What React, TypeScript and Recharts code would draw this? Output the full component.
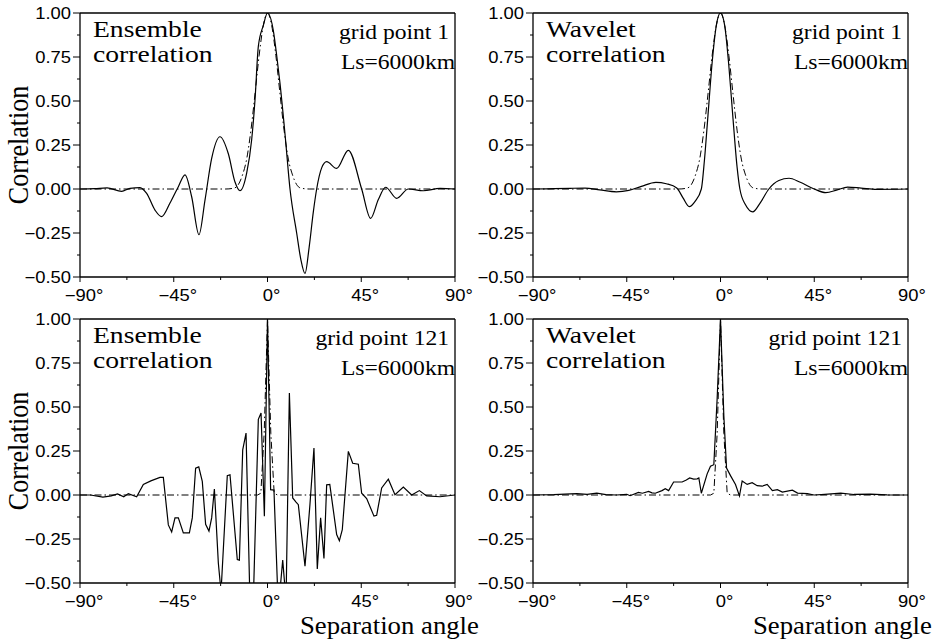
import React from "react";
import { LineChart, Line, XAxis, YAxis, ReferenceLine } from "recharts";

const xTicks = [-90, -67.5, -45, -22.5, 0, 22.5, 45, 67.5, 90];
const yTicks = [-0.5, -0.375, -0.25, -0.125, 0, 0.125, 0.25, 0.375, 0.5, 0.625, 0.75, 0.875, 1];

// grid point 1, ensemble correlation
const ensAngles1 = [
  -90, -83, -77, -70, -66, -61.2, -58, -54, -50.8, -46.8, -42.8, -39.6, -36.4, -32.9, -30, -26.8, -22.8,
  -18.8, -15.6, -13.2, -10, -7.6, -6, -4.4, -2, 0, 2.8, 4.5, 6, 8.5, 10.8, 14, 16, 18, 20, 22, 23.6, 26,
  28.4, 33.2, 38.8, 45.2, 49.5, 53.2, 56.7, 62, 67.6, 74.8, 82.8, 90,
];
const ensValues1 = [
  0, 0.002, 0.006, -0.013, 0.004, 0.008, -0.025, -0.12, -0.157, -0.08, 0.013, 0.08, -0.044, -0.26, -0.063,
  0.174, 0.297, 0.2, 0.04, -0.01, 0.09, 0.28, 0.506, 0.81, 0.93, 1.0, 0.9, 0.75, 0.6, 0.3, 0.0, -0.25, -0.4,
  -0.48, -0.33, -0.13, 0.0, 0.12, 0.155, 0.117, 0.22, 0.0, -0.167, -0.06, 0.01, -0.053, 0.0, -0.01, 0.003, 0,
];

// grid point 1, wavelet correlation
const wavAngles1 = [
  -90, -80, -72, -65, -58, -50, -44, -38, -31, -26, -21, -18, -15, -12.2, -9.2, -7.7, -6, -4, -2, 0, 2, 4,
  6, 8, 9.3, 12, 15.5, 19, 23.2, 28, 32.9, 38, 45, 50.5, 56, 61, 67.5, 75, 90,
];
const wavValues1 = [
  0, 0.002, 0.004, 0.005, -0.005, -0.016, -0.008, 0.015, 0.038, 0.03, 0.006, -0.05, -0.1, -0.07, 0.0, 0.165,
  0.42, 0.72, 0.93, 1.0, 0.93, 0.7, 0.4, 0.12, 0.0, -0.09, -0.13, -0.08, 0.0, 0.048, 0.061, 0.04, 0.0, -0.021,
  -0.005, 0.011, 0.005, -0.002, 0,
];

// Ls=6000km reference correlation, grid point 1
const refAngles1 = [-90, -20, -16, -14, -12, -10, -8, -6, -4, -2, 0, 2, 4, 6, 8, 10, 12, 14, 16, 20, 90];
const refValues1 = [0, 0, 0.005, 0.025, 0.08, 0.17, 0.33, 0.54, 0.76, 0.93, 1, 0.93, 0.76, 0.54, 0.33, 0.17, 0.08, 0.025, 0.005, 0, 0];

// grid point 121, ensemble correlation
const ensAngles121 = [
  -90, -85, -79, -75, -72, -69, -66.8, -62.8, -59.6, -56, -51.6, -50, -47.6, -46, -44.4, -42.8, -40.4, -37.5,
  -36.1, -34.5, -33, -31.3, -29.7, -28.1, -26.8, -25.5, -23.6, -22.3, -19.3, -18, -14.5, -13.5, -11.9, -10.3,
  -8.4, -6.8, -4.4, -3.1, -1.5, 0, 1.5, 3.1, 5.2, 7.3, 8.9, 10.5, 12.1, 13.7, 14.8, 18, 20.4, 22.3, 23.9,
  25.5, 27.1, 28.4, 29.9, 33.2, 34.5, 35.9, 38.8, 40.9, 43.6, 45.2, 47.6, 51.1, 52.4, 54.8, 58, 61.2, 65.2,
  69.2, 72.9, 76.4, 82.8, 90,
];
const ensValues121 = [
  0, 0, -0.012, -0.005, 0.006, -0.01, 0.008, -0.01, 0.06, 0.08, 0.1, 0.1, -0.17, -0.21, -0.13, -0.13, -0.215,
  -0.215, -0.13, 0.153, 0.16, 0.077, -0.167, -0.205, -0.13, 0.034, -0.386, -0.55, 0.11, 0.115, -0.367, -0.37,
  0.257, 0.352, -0.62, -0.6, 0.43, 0.466, -0.12, 1.0, 0.03, 0.028, -0.65, -0.37, -0.6, 0.58, -0.017, -0.04,
  -0.055, -0.405, -0.05, 0.267, -0.42, -0.13, -0.36, 0.058, 0.06, -0.225, -0.26, -0.197, 0.248, 0.18, 0.175,
  0.01, -0.02, -0.12, -0.115, 0.04, 0.09, 0.002, 0.045, 0.0, 0.025, -0.005, -0.01, 0,
];

// grid point 121, wavelet correlation
const wavAngles121 = [
  -90, -80, -72, -69, -64, -59.4, -55, -50, -45, -43.4, -39.4, -37.5, -34.5, -32.9, -31.3, -28.1, -26.5,
  -24.9, -22.5, -20.8, -18.4, -16.4, -14.8, -12.9, -11.2, -10.4, -9.2, -6.4, -4.8, -3.2, -1.6, 0, 1.6, 2.9,
  4.8, 7.2, 9.1, 10.4, 12.8, 15.2, 17.6, 20, 22.4, 24.9, 27.3, 29.7, 34.5, 37, 41.7, 44.9, 50, 57.7, 64, 72,
  80, 90,
];
const wavValues121 = [
  0, 0.002, 0.006, 0.008, 0.004, 0.011, 0.002, 0, 0.004, -0.004, 0.015, 0.01, 0.02, 0.012, 0.01, 0.025, 0.036,
  0.025, 0.074, 0.074, 0.074, 0.085, 0.097, 0.09, 0.092, 0.097, 0.01, 0.12, 0.163, 0.172, 0.55, 1.0, 0.45,
  0.153, 0.11, 0.06, -0.005, 0.08, 0.06, 0.07, 0.053, 0.05, 0.06, 0.025, 0.03, 0.017, 0.027, 0.011, 0.008, 0,
  0.004, 0.011, 0.003, 0.005, 0.001, 0,
];

// Ls=6000km reference correlation, grid point 121
const refAngles121 = [-90, -4.8, -3.2, -1.6, 0, 1.6, 3.2, 4.8, 90];
const refValues121 = [0, 0, 0.01, 0.35, 1, 0.35, 0.01, 0, 0];

const toRows = (angles: number[], values: number[]) => angles.map((a, i) => ({ a, v: values[i] }));

const TICK_FONT = "'Liberation Sans', Arial, Helvetica, sans-serif";
const SERIF = "'Liberation Serif', 'Times New Roman', Times, serif";
const SX = 1.15;

const fmtY = (v: number) => v.toFixed(2).replace("-", "\u2212");
const fmtX = (v: number) => (v < 0 ? "\u2212" : "") + Math.abs(v) + "\u00b0";

function YTick(props: any) {
  const { x, y, payload } = props;
  const v = payload.value as number;
  const major = Math.abs(v * 4 - Math.round(v * 4)) < 1e-6;
  return (
    <g>
      <line x1={x} x2={x - (major ? 7 : 3)} y1={y} y2={y} stroke="#000" strokeWidth={1} />
      {major && (
        <text
          transform={`translate(${x - 9} ${y + 6}) scale(${SX} 1)`}
          textAnchor="end"
          fontFamily={TICK_FONT}
          fontSize={16}
          fill="#000"
        >
          {fmtY(v)}
        </text>
      )}
    </g>
  );
}

function XTick(props: any) {
  const { x, y, payload } = props;
  const v = payload.value as number;
  const major = v % 45 === 0;
  return (
    <g>
      <line x1={x} x2={x} y1={y} y2={y + (major ? 5 : 3)} stroke="#000" strokeWidth={1} />
      {major && (
        <text
          transform={`translate(${x + 4} ${y + 24}) scale(${SX} 1)`}
          textAnchor="middle"
          fontFamily={TICK_FONT}
          fontSize={16}
          fill="#000"
        >
          {fmtX(v)}
        </text>
      )}
    </g>
  );
}

type PanelProps = {
  left: number;
  top: number;
  solid: { a: number; v: number }[];
  reference: { a: number; v: number }[];
  curve: "monotone" | "linear";
};

function Panel({ left, top, solid, reference, curve }: PanelProps) {
  return (
    <div style={{ position: "absolute", left, top }}>
      <LineChart width={482} height={320} margin={{ top: 13, right: 27, left: 0, bottom: 0 }}>
        <XAxis
          dataKey="a"
          type="number"
          domain={[-90, 90]}
          ticks={xTicks}
          interval={0}
          allowDataOverflow
          height={43}
          tickSize={0}
          tickMargin={0}
          tickLine={false}
          axisLine={{ stroke: "#000", strokeWidth: 1.3 }}
          tick={XTick}
        />
        <YAxis
          type="number"
          domain={[-0.5, 1]}
          ticks={yTicks}
          interval={0}
          allowDataOverflow
          width={80}
          tickSize={0}
          tickMargin={0}
          tickLine={false}
          axisLine={{ stroke: "#000", strokeWidth: 1.3 }}
          tick={YTick}
        />
        <ReferenceLine y={1} stroke="#000" strokeWidth={1.3} />
        <ReferenceLine x={90} stroke="#000" strokeWidth={1.3} />
        <Line
          data={reference}
          dataKey="v"
          type={curve}
          stroke="#000"
          strokeWidth={1}
          strokeDasharray="7 3 1.5 3"
          dot={false}
          activeDot={false}
          isAnimationActive={false}
        />
        <Line
          data={solid}
          dataKey="v"
          type={curve}
          stroke="#000"
          strokeWidth={1.2}
          dot={false}
          activeDot={false}
          isAnimationActive={false}
        />
      </LineChart>
    </div>
  );
}

function Txt({ x, y, size, anchor = "start", sx = SX, children }: any) {
  return (
    <text
      transform={`translate(${x} ${y}) scale(${sx} 1)`}
      textAnchor={anchor}
      fontFamily={SERIF}
      fontSize={size}
      fill="#000"
    >
      {children}
    </text>
  );
}

function Annotations() {
  const panels = [
    { px: 80, py: 13, kind: "Ensemble", gp: "grid point 1" },
    { px: 533, py: 13, kind: "Wavelet", gp: "grid point 1" },
    { px: 80, py: 319, kind: "Ensemble", gp: "grid point 121" },
    { px: 533, py: 319, kind: "Wavelet", gp: "grid point 121" },
  ];
  return (
    <svg width={938} height={642} style={{ position: "absolute", left: 0, top: 0, pointerEvents: "none" }}>
      {panels.map((p, i) => (
        <g key={i}>
          <Txt x={p.px + 13} y={p.py + 24} size={24}>{p.kind}</Txt>
          <Txt x={p.px + 13} y={p.py + 49} size={24}>correlation</Txt>
          <Txt x={p.px + 369} y={p.py + 26} size={20.5} anchor="end">{p.gp}</Txt>
          <Txt x={p.px + 375} y={p.py + 56} size={20.5} anchor="end">Ls=6000km</Txt>
        </g>
      ))}
      {[145, 451].map((cy) => (
        <text
          key={cy}
          transform={`translate(28 ${cy}) scale(${SX} 1) rotate(-90)`}
          textAnchor="middle"
          fontFamily={SERIF}
          fontSize={26}
          fill="#000"
        >
          Correlation
        </text>
      ))}
      <Txt x={300} y={634} size={25} sx={1.07}>Separation angle</Txt>
      <Txt x={753} y={634} size={25} sx={1.07}>Separation angle</Txt>
    </svg>
  );
}

export default function App() {
  return (
    <div style={{ position: "absolute", left: 0, top: 0, width: 938, height: 642, overflow: "hidden", background: "#fff" }}>
      <Panel left={0} top={0} solid={toRows(ensAngles1, ensValues1)} reference={toRows(refAngles1, refValues1)} curve="monotone" />
      <Panel left={453} top={0} solid={toRows(wavAngles1, wavValues1)} reference={toRows(refAngles1, refValues1)} curve="monotone" />
      <Panel left={0} top={306} solid={toRows(ensAngles121, ensValues121)} reference={toRows(refAngles121, refValues121)} curve="linear" />
      <Panel left={453} top={306} solid={toRows(wavAngles121, wavValues121)} reference={toRows(refAngles121, refValues121)} curve="linear" />
      <Annotations />
    </div>
  );
}
